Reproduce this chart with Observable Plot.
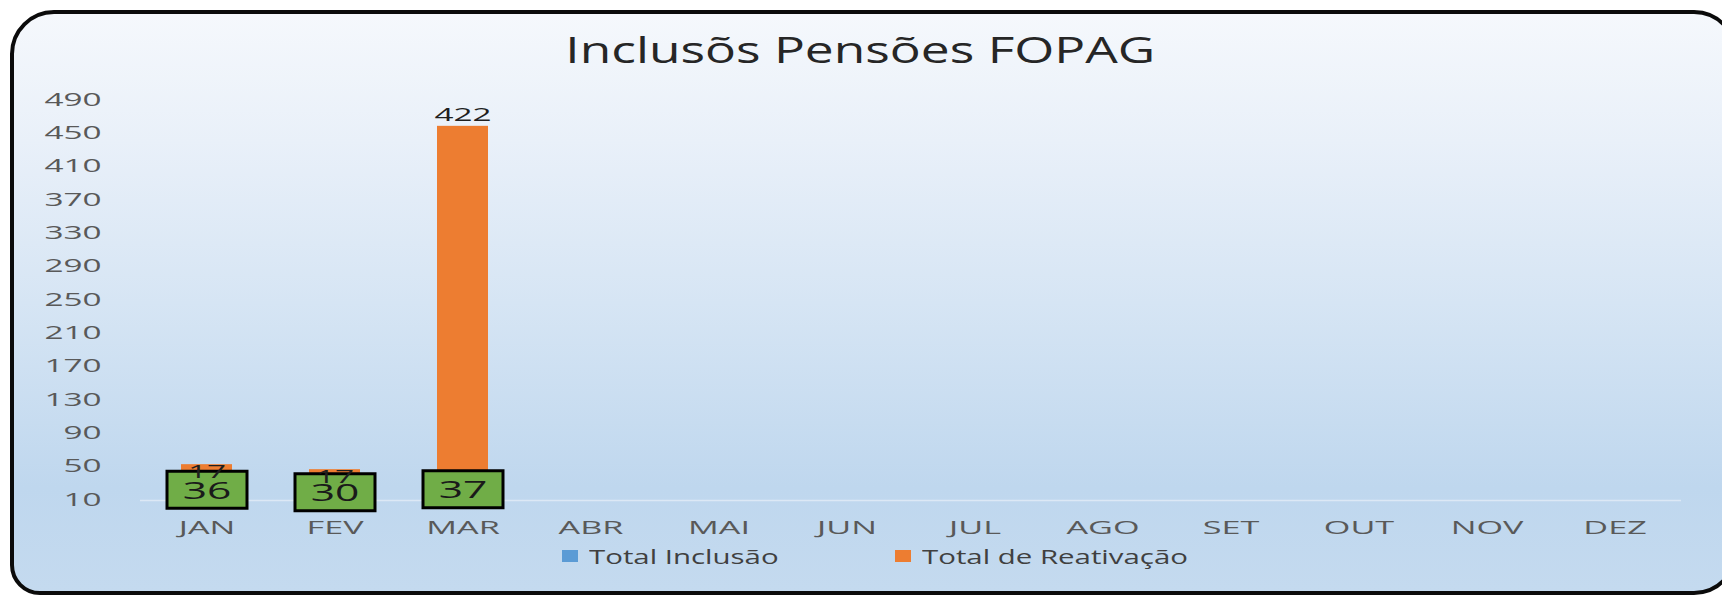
<!DOCTYPE html>
<html><head><meta charset="utf-8">
<script src="https://cdn.jsdelivr.net/npm/d3@7"></script>
<script src="https://cdn.jsdelivr.net/npm/@observablehq/plot@0.6"></script>
<style>
html,body{margin:0;padding:0;background:#fff;width:1722px;height:595px;overflow:hidden;font-family:"Open Sans",sans-serif;}
#frame{position:absolute;left:10px;top:10px;width:1728px;height:585px;box-sizing:border-box;border:4px solid #0b0b0b;border-radius:44px 44px 44px 30px;
 background:linear-gradient(to bottom,#f5f8fc 0%,#e9f0f9 22%,#d6e5f4 50%,#bfd7ee 82%,#c4daef 100%);}
#title{position:absolute;left:0;top:28px;width:1720px;text-align:center;font-size:36px;line-height:44px;color:#262626;}
#title span{display:inline-block;transform:scaleX(1.43);transform-origin:center;}
#chart{position:absolute;left:0;top:80px;}
#legend{position:absolute;left:562px;top:543px;height:26px;display:flex;align-items:center;font-size:20px;color:#404040;}
.item{display:flex;align-items:center;}
.item .sw{width:16px;height:12px;margin-right:11px;}
.item span{display:inline-block;transform:scaleX(1.47);transform-origin:left center;white-space:nowrap;}
</style></head>
<body>
<div id="frame"></div>
<div id="title"><span>Inclusõs Pensões FOPAG</span></div>
<div id="chart"></div>
<div id="legend"></div>
<script>
const months = ["JAN","FEV","MAR","ABR","MAI","JUN","JUL","AGO","SET","OUT","NOV","DEZ"];
const series = ["Total Inclusão","Total de Reativação"];
const totalInclusao = [36, 30, 37, null, null, null, null, null, null, null, null, null];
const totalReativacao = [17, 17, 422, null, null, null, null, null, null, null, null, null];
const yTicks = [10, 50, 90, 130, 170, 210, 250, 290, 330, 370, 410, 450, 490];
const colors = ["#5B9BD5", "#ED7D31"];

const yMin = yTicks[0], yMax = yTicks[yTicks.length - 1];

// build rows with stacked bounds
const rows = [];
months.forEach((m, i) => {
  let acc = 0;
  [[series[0], totalInclusao[i]], [series[1], totalReativacao[i]]].forEach(([s, v]) => {
    if (v == null) return;
    const lo = acc, hi = acc + v;
    const visLo = Math.max(lo, yMin);
    rows.push({month: m, serie: s, value: v, lo, hi, mid: (visLo + hi) / 2});
    acc = hi;
  });
});
const inclRows = rows.filter(d => d.serie === series[0]);
const reatRows = rows.filter(d => d.serie === series[1]);
const reatSmall = reatRows.filter(d => d.value <= 100);
const reatBig = reatRows.filter(d => d.value > 100);

const boxSymbol = {
  draw(ctx) {
    ctx.moveTo(-40, -18.5); ctx.lineTo(40, -18.5); ctx.lineTo(40, 18.5); ctx.lineTo(-40, 18.5); ctx.closePath();
  }
};

const plot = Plot.plot({
  width: 1722,
  height: 470,
  marginTop: 20,
  marginBottom: 50,
  marginLeft: 140,
  marginRight: 41,
  style: {background: "transparent", fontFamily: "Open Sans, sans-serif", color: "#595959"},
  x: {domain: months, paddingInner: 0.6, paddingOuter: 0.3},
  y: {domain: [yMin, yMax]},
  color: {domain: series, range: colors},
  marks: [
    Plot.ruleY([yMin], {stroke: "#dce8f5", strokeWidth: 1.5}),
    Plot.barY(rows, Plot.stackY({x: "month", y: "value", fill: "serie", order: series, clip: true})),
    Plot.dot(inclRows, {x: "month", y: "mid", symbol: boxSymbol, r: 10, fill: "#70AD47", stroke: "#000", strokeWidth: 3}),
    Plot.text(inclRows, {x: "month", y: "mid", dy: 9, text: d => String(d.value), fontSize: 23, fill: "#1a1a1a", ariaDescription: "box-label"}),
    Plot.text(reatSmall, {x: "month", y: "mid", dy: 6, text: d => String(d.value), fontSize: 18, fill: "#1f1f1f", ariaDescription: "reat-label"}),
    Plot.text(reatBig, {x: "month", y: "hi", dy: -5, text: d => String(d.value), fontSize: 18, fill: "#1f1f1f", ariaDescription: "reat-label"}),
    Plot.axisY({ticks: yTicks, tickSize: 0, tickPadding: 39, fontSize: 18, label: null, dy: 5, ariaDescription: "yax"}),
    Plot.axisX({tickSize: 0, tickPadding: 33, fontSize: 19, label: null, ariaDescription: "xax"})
  ]
});
document.getElementById("chart").appendChild(plot);

function stretch(sel, k) {
  plot.querySelectorAll(sel).forEach(t => {
    const x = t.getAttribute("x"), y = t.getAttribute("y");
    let tr = t.getAttribute("transform") || "";
    if (x != null || y != null) {
      tr += ` translate(${+x || 0},${+y || 0})`;
      t.removeAttribute("x"); t.removeAttribute("y");
    }
    t.setAttribute("transform", tr + ` scale(${k},1)`);
  });
}
stretch('g[aria-label="y-axis tick label"] text', 1.85);
stretch('g[aria-label="x-axis tick label"] text', 1.8);
stretch('g[aria-description="box-label"] text', 1.85);
stretch('g[aria-description="reat-label"] text', 1.85);

// legend
const legend = document.getElementById("legend");
series.forEach((s, i) => {
  const it = document.createElement("div");
  it.className = "item";
  if (i === 0) it.style.width = "333px";
  const sw = document.createElement("div");
  sw.className = "sw"; sw.style.background = colors[i];
  const tx = document.createElement("span");
  tx.textContent = s;
  it.appendChild(sw); it.appendChild(tx);
  legend.appendChild(it);
});
</script>
</body></html>
